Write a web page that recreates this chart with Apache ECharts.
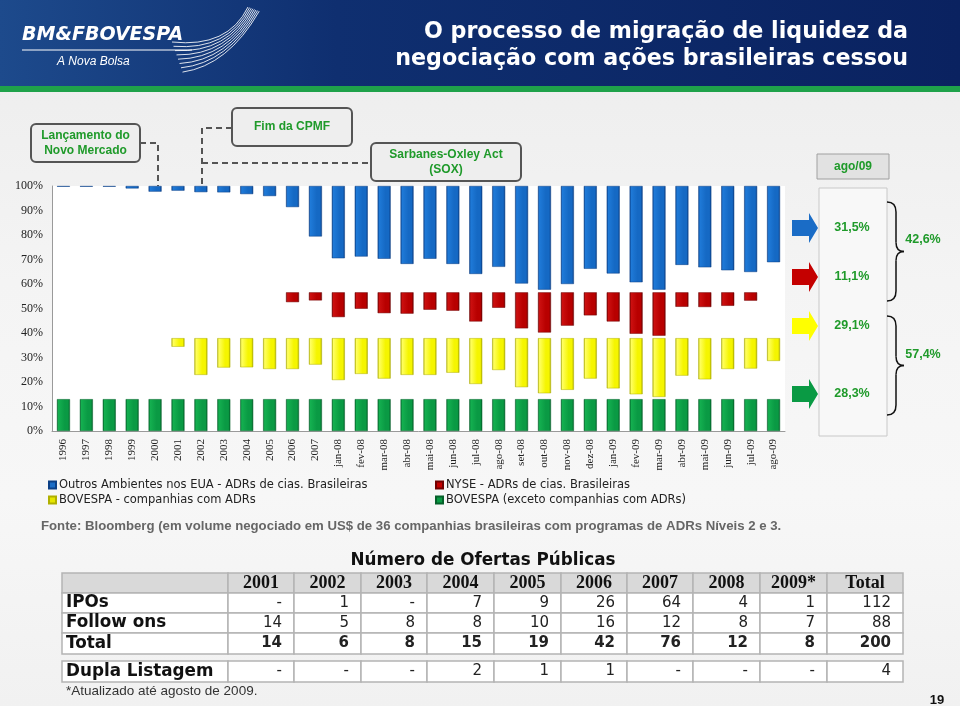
<!DOCTYPE html>
<html><head><meta charset="utf-8">
<script src="https://cdn.jsdelivr.net/npm/echarts@6/dist/echarts.min.js"></script>
<style>
html,body{margin:0;padding:0;}
body{width:960px;height:706px;background:linear-gradient(180deg,#ececec 0%,#f4f4f4 40%,#f7f7f7 70%,#f1f1f1 100%);}
#c{width:960px;height:706px;}
</style></head><body><div id="c"></div>
<script>
// ---------- DATA ----------
const categories = ['1996','1997','1998','1999','2000','2001','2002','2003','2004','2005','2006','2007',
  'jan-08','fev-08','mar-08','abr-08','mai-08','jun-08','jul-08','ago-08','set-08','out-08','nov-08','dez-08',
  'jan-09','fev-09','mar-09','abr-09','mai-09','jun-09','jul-09','ago-09'];
const seriesNames = ['Outros Ambientes nos EUA - ADRs de cias. Brasileiras','NYSE - ADRs de cias. Brasileiras',
  'BOVESPA - companhias com ADRs','BOVESPA (exceto companhias com ADRs)'];
// bar lengths (in % of axis) hanging from each band's top; null = no bar drawn
const outrosEUA = [0.3,0.3,0.3,1.0,2.3,1.9,2.5,2.6,3.3,4.1,8.6,20.6,
  29.5,28.8,29.7,31.8,29.7,31.8,35.9,33.0,39.8,42.3,40.0,33.8,
  35.7,39.3,42.3,32.2,33.2,34.4,35.1,31.1];
const nyse = [null,null,null,null,null,null,null,null,null,null,4.0,3.3,
  10.1,6.7,8.5,8.7,7.1,7.5,11.9,6.3,14.7,16.4,13.6,9.4,
  11.9,16.9,17.7,5.9,6.0,5.5,3.4,null];
const bovespaADR = [null,null,null,null,null,3.5,15.0,12.0,11.9,12.6,12.6,10.8,
  17.1,14.6,16.5,15.0,15.0,14.1,18.7,13.0,20.0,22.5,21.1,16.5,
  20.5,22.9,24.0,15.3,16.8,12.6,12.4,9.3];
const bovespaExADR = [13,13,13,13,13,13,13,13,13,13,13,13,
  13,13,13,13,13,13,13,13,13,13,13,13,
  13,13,13,13,13,13,13,13];
const bandTops = {outros:100, nyse:56.6, adr:37.9, exadr:13};
const yTicks = [0,10,20,30,40,50,60,70,80,90,100];
const agoLabel = 'ago/09';
const agoValues = ['31,5%','11,1%','29,1%','28,3%'];
const groupValues = ['42,6%','57,4%'];
const callouts = ['Lançamento do\nNovo Mercado','Fim da CPMF','Sarbanes-Oxley Act\n(SOX)'];
const titleLines = ['O processo de migração de liquidez da','negociação com ações brasileiras cessou'];
const sourceText = 'Fonte: Bloomberg (em volume negociado em US$ de 36 companhias brasileiras com programas de ADRs Níveis 2 e 3.';
// table
const tableTitle = 'Número de Ofertas Públicas';
const tableCols = ['2001','2002','2003','2004','2005','2006','2007','2008','2009*','Total'];
const rowLabels = ['IPOs','Follow ons','Total','Dupla Listagem'];
const ipos = ['-','1','-','7','9','26','64','4','1','112'];
const followOns = ['14','5','8','8','10','16','12','8','7','88'];
const totals = ['14','6','8','15','19','42','76','12','8','200'];
const duplaListagem = ['-','-','-','2','1','1','-','-','-','4'];
const footnote = '*Atualizado até agosto de 2009.';
const pageNumber = '19';

// ---------- BUILD ----------
const gap0 = bovespaExADR.map(v => bandTops.exadr - (v||0));
const gap1 = bovespaADR.map(v => (bandTops.adr - (v||0)) - bandTops.exadr);
const gap2 = nyse.map(v => (bandTops.nyse - (v||0)) - bandTops.adr);
const gap3 = outrosEUA.map(v => (bandTops.outros - (v||0)) - bandTops.nyse);

function grad(dark, light, main){
  return new echarts.graphic.LinearGradient(0,0,1,0,[
    {offset:0,color:dark},{offset:0.12,color:light},{offset:0.6,color:main},{offset:0.85,color:main},{offset:1,color:dark}]);
}
const colBlue = grad('#0b3f86','#1f7ad8','#1569c4');
const colRed = grad('#6a0000','#cc1010','#b80000');
const colYel = grad('#a8a800','#ffff60','#f5f500');
const colGrn = grad('#05612a','#14b050','#0a9a44');

const transp = (name, data) => ({name, type:'bar', stack:'s', data, barWidth:13, silent:true,
  itemStyle:{color:'rgba(0,0,0,0)'}, emphasis:{disabled:true}});
const colored = (name, data, color, edge) => ({name, type:'bar', stack:'s', data, barWidth:13,
  itemStyle:{color, borderColor:edge, borderWidth:0.5}});

const FS = "'Liberation Sans', Arial, sans-serif";
const DV = "'DejaVu Sans', Verdana, sans-serif";
const SER = "'Liberation Serif', 'Times New Roman', serif";
const green = '#1f9a2a';

const G = [];
// header
G.push({type:'rect', shape:{x:0,y:0,width:960,height:86}, style:{fill:new echarts.graphic.LinearGradient(0,0,1,0,[
  {offset:0,color:'#1d4a8c'},{offset:0.35,color:'#0f2f70'},{offset:1,color:'#0a2260'}])}, silent:true});
G.push({type:'rect', shape:{x:0,y:86,width:960,height:6}, style:{fill:'#1fa24a'}, silent:true});
G.push({type:'text', x:22, y:35, style:{text:'BM&FBOVESPA', fill:'#fff', font:"italic bold 19px "+DV, align:'left', verticalAlign:'middle', textAlign:'left', textVerticalAlign:'middle'}, silent:true});
G.push({type:'line', shape:{x1:22,y1:50,x2:192,y2:50}, style:{stroke:'#fff', lineWidth:1}, silent:true});
G.push({type:'text', x:57, y:62, style:{text:'A Nova Bolsa', fill:'#fff', font:"italic 12px "+FS, align:'left', verticalAlign:'middle', textAlign:'left', textVerticalAlign:'middle'}, silent:true});
for (let i=0;i<8;i++){
  G.push({type:'bezierCurve', shape:{x1:172+i*1.5, y1:42+i*4.3, cpx1:228, cpy1:48+i*2.5, x2:248+i*1.6, y2:7+i*0.6},
    style:{stroke:'rgba(255,255,255,0.85)', lineWidth:1, fill:null}, silent:true});
}
titleLines.forEach((t,i)=>G.push({type:'text', x:908, y:32+i*27, style:{text:t, fill:'#fff', font:"bold 22.2px "+DV, align:'right', verticalAlign:'middle', textAlign:'right', textVerticalAlign:'middle'}, silent:true}));

// callouts
const boxStyle = {fill:'#eeeeee', stroke:'#555', lineWidth:2};
const txt = (x,y,t,font,fill,align) => ({type:'text', x, y, style:{text:t, fill, font, align:align||'center', verticalAlign:'middle', textAlign:align||'center', textVerticalAlign:'middle', lineHeight:15}, silent:true});
const dash = (pts) => ({type:'polyline', shape:{points:pts}, style:{stroke:'#555', lineWidth:2, lineDash:[6,4], fill:null}, silent:true});
G.push(dash([[140,143],[158,143],[158,186]]));
G.push(dash([[232,128],[202,128],[202,186]]));
G.push(dash([[202,163],[371,163]]));
G.push({type:'rect', shape:{x:31,y:124,width:109,height:38,r:5}, style:boxStyle, silent:true});
G.push(txt(85.5,143.5,callouts[0],"bold 12px "+FS,green));
G.push({type:'rect', shape:{x:232,y:108,width:120,height:38,r:5}, style:boxStyle, silent:true});
G.push(txt(292,127,callouts[1],"bold 12px "+FS,green));
G.push({type:'rect', shape:{x:371,y:143,width:150,height:38,r:5}, style:boxStyle, silent:true});
G.push(txt(446,162.5,callouts[2],"bold 12px "+FS,green));

// right panel
G.push({type:'rect', shape:{x:817,y:154,width:72,height:25}, style:{fill:'#e2e2e2', stroke:'#a0a0a0', lineWidth:1}, silent:true});
G.push(txt(853,167,agoLabel,"bold 12px "+FS,green));
G.push({type:'rect', shape:{x:819,y:188,width:68,height:248}, style:{fill:'#f8f8f8', stroke:'#c8c8c8', lineWidth:1}, silent:true});
const arrowYs = [228,277,326,394];
const arrowCols = ['#1a6cc6','#c40000','#ffff00','#0a9a44'];
arrowYs.forEach((yc,i)=>{
  G.push({type:'polygon', shape:{points:[[792,yc-8],[809,yc-8],[809,yc-15],[818,yc],[809,yc+15],[809,yc+8],[792,yc+8]]}, style:{fill:arrowCols[i]}, silent:true});
  G.push(txt(852,yc,agoValues[i],"bold 12.5px "+FS,green));
});
const bz = (x1,y1,cx,cy,x2,y2) => ({type:'bezierCurve', shape:{x1,y1,cpx1:cx,cpy1:cy,x2,y2}, style:{stroke:'#111', lineWidth:1.5, fill:null}, silent:true});
const ln = (x1,y1,x2,y2) => ({type:'line', shape:{x1,y1,x2,y2}, style:{stroke:'#111', lineWidth:1.5}, silent:true});
const brace = (y1,y2) => {
  const m=(y1+y2)/2;
  G.push(bz(887,y1,896,y1,896,y1+10));
  G.push(ln(896,y1+10,896,m-9));
  G.push(bz(896,m-9,896,m,904,m));
  G.push(bz(904,m,896,m,896,m+9));
  G.push(ln(896,m+9,896,y2-10));
  G.push(bz(896,y2-10,896,y2,887,y2));
};
brace(202,301); brace(316,415);
G.push(txt(923,240,groupValues[0],"bold 12.5px "+FS,green));
G.push(txt(923,355,groupValues[1],"bold 12.5px "+FS,green));

// source
G.push(txt(41,526,sourceText,"bold 13.2px "+FS,'#666','left'));

// table
const xs = [62,228,294,361,427,494,561,627,693,760,827,903];
const rowsY = [[573,593],[593,613],[613,633],[633,654],[661,682]];
G.push(txt(483,561,tableTitle,"bold 16.8px "+DV,'#111'));
const bodyRows = [ipos, followOns, totals, duplaListagem];
rowsY.forEach((ry,r)=>{
  for (let c=0;c<xs.length-1;c++){
    G.push({type:'rect', shape:{x:xs[c],y:ry[0],width:xs[c+1]-xs[c],height:ry[1]-ry[0]},
      style:{fill:r===0?'#d9d9d9':'#ffffff', stroke:'#b4b4b4', lineWidth:1.5}, silent:true});
  }
  const yc=(ry[0]+ry[1])/2;
  if (r===0){
    tableCols.forEach((t,c)=>G.push(txt((xs[c+1]+xs[c+2])/2,yc,t,"bold 18px "+SER,'#111')));
  } else {
    G.push(txt(66,yc,rowLabels[r-1],"bold 16.8px "+DV,'#111','left'));
    bodyRows[r-1].forEach((t,c)=>G.push(txt(xs[c+2]-12,yc,t,(r===3?"bold ":"")+"15px "+DV,'#222','right')));
  }
});
G.push(txt(66,691,footnote,"13.5px "+FS,'#333','left'));
G.push(txt(937,700,pageNumber,"bold 13px "+FS,'#111'));

const legendItem = (name, left, top, color) => ({data:[{name, itemStyle:{color}}], left, top, icon:'rect', itemWidth:7, itemHeight:7, itemGap:0, padding:0,
  textStyle:{fontFamily:DV, fontSize:11.5, color:'#222', padding:[0,0,0,-2]}, selectedMode:false});

const option = {
  animation:false,
  grid:{left:52, right:175, top:186, bottom:275, show:true, backgroundColor:'#ffffff', borderWidth:0},
  legend:[
    legendItem(seriesNames[0],48,479,'#1a6cc6'),
    legendItem(seriesNames[1],435,479,'#c40000'),
    legendItem(seriesNames[2],48,494,'#e6e600'),
    legendItem(seriesNames[3],435,494,'#0a9a44')
  ],
  xAxis:{type:'category', data:categories, axisLine:{lineStyle:{color:'#9a9a9a'}}, axisTick:{show:false},
    axisLabel:{rotate:90, fontFamily:SER, fontSize:11, color:'#222', margin:8, interval:0}},
  yAxis:{type:'value', min:0, max:100, interval:10, axisLine:{show:true, lineStyle:{color:'#9a9a9a'}}, axisTick:{show:false},
    splitLine:{show:false}, axisLabel:{formatter:v=>yTicks.includes(v)?v+'%':'', fontFamily:SER, fontSize:12, color:'#222', margin:9}},
  series:[
    transp('g0',gap0),
    colored(seriesNames[3],bovespaExADR,colGrn,'#05612a'),
    transp('g1',gap1),
    colored(seriesNames[2],bovespaADR,colYel,'#b0b000'),
    transp('g2',gap2),
    colored(seriesNames[1],nyse,colRed,'#700000'),
    transp('g3',gap3),
    colored(seriesNames[0],outrosEUA,colBlue,'#0b3f86')
  ],
  graphic:G
};
const chart = echarts.init(document.getElementById('c'), null, {renderer:'canvas'});
chart.setOption(option);
</script></body></html>
